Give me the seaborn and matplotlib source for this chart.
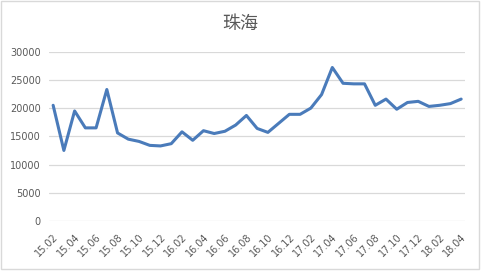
import matplotlib
matplotlib.use("Agg")
import matplotlib.pyplot as plt
import seaborn as sns
import pandas as pd
from matplotlib.patches import Rectangle

months = ["15.02","15.03","15.04","15.05","15.06","15.07","15.08","15.09","15.10","15.11","15.12",
          "16.01","16.02","16.03","16.04","16.05","16.06","16.07","16.08","16.09","16.10","16.11","16.12",
          "17.01","17.02","17.03","17.04","17.05","17.06","17.07","17.08","17.09","17.10","17.11","17.12",
          "18.01","18.02","18.03","18.04"]
values = [20500, 12500, 19500, 16500, 16500, 23300, 15600, 14500, 14100, 13400, 13300,
          13700, 15800, 14300, 16000, 15500, 15900, 17000, 18700, 16400, 15700, 17300, 18900,
          18900, 20000, 22400, 27200, 24400, 24300, 24300, 20500, 21600, 19800, 21000, 21200,
          20300, 20500, 20800, 21600]
yticks = [0, 5000, 10000, 15000, 20000, 25000, 30000]
title = "珠海"

sns.set_theme(style="white")
plt.rcParams['font.family'] = ['Noto Sans CJK SC', 'DejaVu Sans']

df = pd.DataFrame({"idx": range(len(months)), "month": months, "value": values})

fig = plt.figure(figsize=(4.82, 2.72), dpi=100)
ax = fig.add_axes([0.102, 0.1875, 0.863, 0.6225])
sns.lineplot(data=df, x="idx", y="value", ax=ax, color="#4a7bba", linewidth=2.2, zorder=3)

ax.set_ylim(0, 30000)
ax.set_xlim(-0.37, len(months) - 1 + 0.37)
ax.set_yticks(yticks)
ax.set_yticklabels([str(v) for v in yticks], fontsize=7, color="#595959", family=['DejaVu Sans'])
tick_idx = list(range(0, len(months), 2))
ax.set_xticks(tick_idx)
ax.set_xticklabels([months[i] for i in tick_idx], rotation=45, ha="right", rotation_mode="anchor",
                   fontsize=7, color="#595959", family=['DejaVu Sans'])
ax.tick_params(axis="both", length=0)
ax.tick_params(axis="y", pad=6)
ax.tick_params(axis="x", pad=8)
ax.grid(axis="y", color="#d9d9d9", linewidth=0.9)
ax.grid(axis="x", visible=False)
for s in ax.spines.values():
    s.set_visible(False)
ax.set_xlabel("")
ax.set_ylabel("")

fig.text(0.498, 0.913, title, ha="center", va="center", fontsize=13, color="#595959")
fig.patches.append(Rectangle((0.002, 0.01), 0.992, 0.985, transform=fig.transFigure,
                             fill=False, edgecolor="#d9d9d9", linewidth=1))

fig.savefig("out.png", dpi=100)
